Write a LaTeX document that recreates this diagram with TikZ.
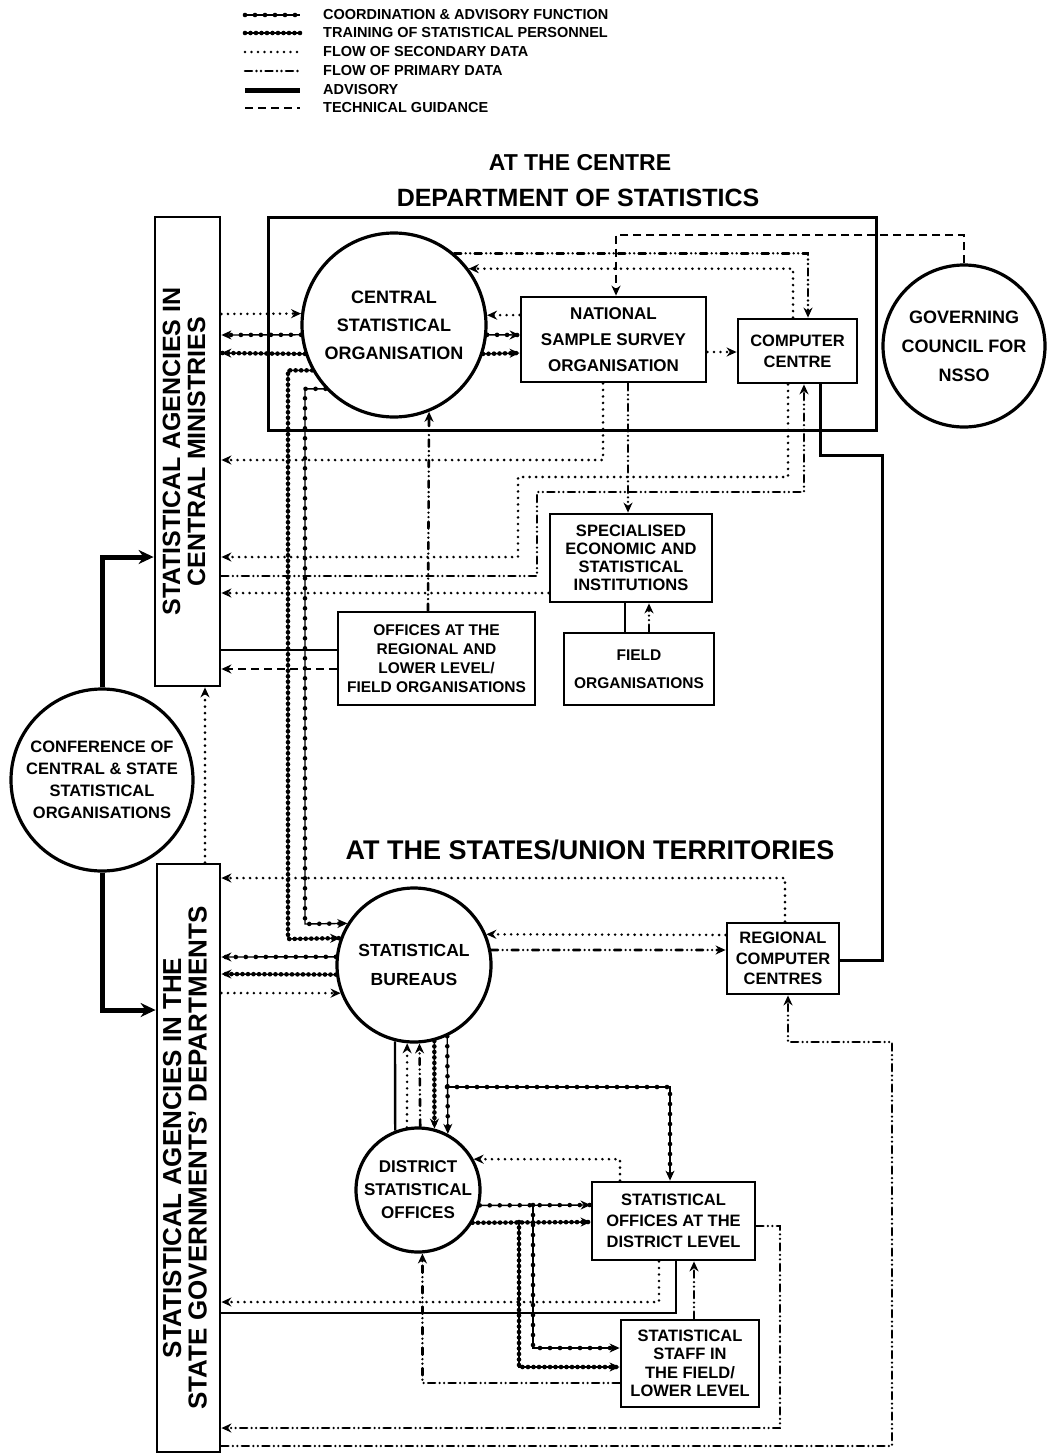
\documentclass[tikz,border=0pt]{standalone}
\usepackage{fontspec}
\setmainfont{Liberation Sans}
\usepackage{graphicx}
\usetikzlibrary{arrows.meta}
\newcommand\myfs[2]{\bfseries\fontsize{#1}{#2}\selectfont}
\tikzset{
 box/.style={draw, line width=2.8pt, inner sep=0pt, align=center},
 circ/.style={draw, circle, line width=3.2pt, inner sep=0pt, align=center},
 arrowhd/.style={-{Stealth[length=10pt,width=9pt]}},
 bigarrowhd/.style={-{Stealth[length=15pt,width=14pt]}},
 coordl/.style={line width=1.4pt, postaction={draw, arrows=-, line width=4.6pt, line cap=round, dash pattern=on 0pt off 10pt}},
 trainl/.style={line width=1.4pt, postaction={draw, arrows=-, line width=4.6pt, line cap=round, dash pattern=on 0pt off 5.5pt}},
 secl/.style={line width=2.8pt, line cap=round, dash pattern=on 0pt off 6.5pt},
 priml/.style={line width=2.6pt, line cap=round, dash pattern=on 7pt off 4.5pt on 0pt off 4.5pt on 0pt off 4.5pt},
 techl/.style={line width=2.8pt, dash pattern=on 8pt off 5pt},
 advl/.style={line width=5pt},
 plainl/.style={line width=2.4pt},
 legend/.style={anchor=west, inner sep=0pt, font=\myfs{14.5}{16}},
 title/.style={inner sep=0pt, font=\myfs{#1}{#1}},
}
\begin{document}
\begin{tikzpicture}[x=1pt,y=-1pt]
\fill[white] (0,0) rectangle (1048,1456);
\useasboundingbox (0,0) rectangle (1048,1456);

% legend
\node[legend] (lg1) at (323,15) {COORDINATION \& ADVISORY FUNCTION};
\node[legend] (lg2) at (323,33) {TRAINING OF STATISTICAL PERSONNEL};
\node[legend] (lg3) at (323,52) {FLOW OF SECONDARY DATA};
\node[legend] (lg4) at (323,71) {FLOW OF PRIMARY DATA};
\node[legend] (lg5) at (323,90) {ADVISORY};
\node[legend] (lg6) at (323,108) {TECHNICAL GUIDANCE};
\draw[coordl] (245,15) -- (300,15);
\draw[trainl] (245,33) -- (300,33);
\draw[secl] (245,52) -- (300,52);
\draw[priml] (245,71) -- (300,71);
\draw[advl] (245,90) -- (300,90);
\draw[techl] (245,108) -- (300,108);

% titles
\node[title=23] (t1) at (580,163) {AT THE CENTRE};
\node[title=25] (t2) at (578,198) {DEPARTMENT OF STATISTICS};
\node[title=27] (t3) at (590,850) {AT THE STATES/UNION TERRITORIES};

% nodes
\node[box, line width=3pt, minimum width=608pt, minimum height=213pt] (dept) at (572,323.5) {};
\node[circ, minimum size=184pt, font=\myfs{18}{28}] (cso) at (394,325) {CENTRAL\\STATISTICAL\\ORGANISATION};
\node[box, minimum width=185pt, minimum height=85pt, font=\myfs{17}{26}] (nsso) at (613.5,339.5) {NATIONAL\\SAMPLE SURVEY\\ORGANISATION};
\node[box, minimum width=119pt, minimum height=64pt, font=\myfs{16.5}{21}] (cc) at (797.5,351) {COMPUTER\\CENTRE};
\node[circ, minimum size=162pt, font=\myfs{18}{29}] (gc) at (964,346) {GOVERNING\\COUNCIL FOR\\NSSO};
\node[box, minimum width=65pt, minimum height=469pt] (agc) at (187.5,451.5)
 {\rotatebox{90}{\myfs{25}{25}\begin{tabular}{@{}c@{}}STATISTICAL AGENCIES IN\\CENTRAL MINISTRIES\end{tabular}}};
\node[box, minimum width=63pt, minimum height=588pt] (ags) at (188.5,1158)
 {\rotatebox{90}{\myfs{26}{24.5}\begin{tabular}{@{}c@{}}STATISTICAL AGENCIES IN THE\\STATE GOVERNMENTS' DEPARTMENTS\end{tabular}}};
\node[circ, minimum size=182pt, font=\myfs{16.5}{22}] (conf) at (102,780) {CONFERENCE OF\\CENTRAL \& STATE\\STATISTICAL\\ORGANISATIONS};
\node[box, minimum width=197pt, minimum height=93pt, font=\myfs{15.5}{19}] (off) at (436.5,658.5) {OFFICES AT THE\\REGIONAL AND\\LOWER LEVEL/\\FIELD ORGANISATIONS};
\node[box, minimum width=162pt, minimum height=88pt, font=\myfs{16.5}{18}] (spec) at (631,558) {SPECIALISED\\ECONOMIC AND\\STATISTICAL\\INSTITUTIONS};
\node[box, minimum width=150pt, minimum height=72pt, font=\myfs{15.5}{28}] (field) at (639,669) {FIELD\\ORGANISATIONS};
\node[circ, minimum size=154pt, font=\myfs{17.5}{29}] (sb) at (414,965) {STATISTICAL\\BUREAUS};
\node[box, minimum width=112pt, minimum height=71pt, font=\myfs{16.5}{20.5}] (rcc) at (783,958.5) {REGIONAL\\COMPUTER\\CENTRES};
\node[circ, minimum size=124pt, font=\myfs{17}{23}] (dso) at (418,1190) {DISTRICT\\STATISTICAL\\OFFICES};
\node[box, minimum width=163pt, minimum height=78pt, font=\myfs{16.5}{21}] (sodl) at (673.5,1221) {STATISTICAL\\OFFICES AT THE\\DISTRICT LEVEL};
\node[box, minimum width=138pt, minimum height=87pt, font=\myfs{16.5}{18.5}] (ssfl) at (690,1363.5) {STATISTICAL\\STAFF IN\\THE FIELD/\\LOWER LEVEL};

% ---- connectors at the centre
\draw[techl,arrowhd] (gc.north) |- (616,235) -- (nsso.north -| 616,0);
\draw[priml,arrowhd] (cso.50) -| (cc.north -| 808,0);
\draw[secl,arrowhd] (cc.north -| 793,0) |- (cso.37);
\draw[secl,arrowhd] (nsso.west |- 0,315) -- (cso.6);
\draw[coordl,arrowhd] (cso.-6) -- (nsso.west |- 0,335);
\draw[trainl,arrowhd] (cso.-18) -- (nsso.west |- 0,353);
\draw[secl,arrowhd] (nsso.east |- 0,352) -- (cc.west |- 0,352);
\draw[secl,arrowhd] (agc.east |- 0,314) -- (cso.173);
\draw[coordl,arrowhd] (cso.186) -- (agc.east |- 0,335);
\draw[trainl,arrowhd] (cso.198) -- (agc.east |- 0,353);
\draw[trainl,arrowhd] (cso.209) -| (288,939) -- (sb.160);
\draw[coordl,arrowhd] (cso.223) -| (305,924) -- (sb.148);
\draw[secl,arrowhd] (nsso.south -| 603,0) |- (agc.east |- 0,460);
\draw[priml,arrowhd] (nsso.south -| 628,0) -- (spec.north -| 628,0);
\draw[secl,arrowhd] (cc.south -| 788,0) |- (518,477) |- (agc.east |- 0,557);
\draw[priml,arrowhd] (agc.east |- 0,576) -| (537,492) -| (cc.south -| 804,0);
\draw[secl,arrowhd] (spec.west |- 0,593) -- (agc.east |- 0,593);
\draw[priml,arrowhd] (off.north -| 428,0) -- (cso.-68);
\draw[plainl] (agc.east |- 0,650) -- (off.west |- 0,650);
\draw[techl,arrowhd] (off.west |- 0,669) -- (agc.east |- 0,669);
\draw[plainl] (field.north -| 625,0) -- (spec.south -| 625,0);
\draw[priml,arrowhd] (field.north -| 649,0) -- (spec.south -| 649,0);
\draw[advl,bigarrowhd] (conf.north) |- (agc.west |- 0,557);
\draw[advl,bigarrowhd] (conf.south) |- (ags.west |- 0,1010);
\draw[secl,arrowhd] (ags.north -| 205,0) -- (agc.south -| 205,0);
\draw[plainl,line width=3pt] (cc.south -| 820,0) |- (882,455) |- (rcc.east |- 0,960);

% ---- connectors at the states
\draw[secl,arrowhd] (rcc.north -| 785,0) |- (ags.east |- 0,878);
\draw[secl,arrowhd] (rcc.west |- 0,935) -- (sb.23);
\draw[priml,arrowhd] (sb.11) -- (rcc.west |- 0,950);
\draw[coordl,arrowhd] (sb.174) -- (ags.east |- 0,957);
\draw[trainl,arrowhd] (sb.187) -- (ags.east |- 0,974);
\draw[secl,arrowhd] (ags.east |- 0,993) -- (sb.201);
\draw[plainl] (sb.-104) -- (dso.111);
\draw[secl,arrowhd] (dso.100) -- (sb.-95);
\draw[priml,arrowhd] (dso.88) -- (sb.-86);
\draw[trainl,arrowhd] (sb.-75) -- (dso.75);
\draw[coordl,arrowhd] (sb.-65) -- (dso.62);
\coordinate (br1) at (447,1087);
\draw[coordl,arrowhd] (br1) -| (sodl.north -| 670,0);
\draw[secl,arrowhd] (sodl.north -| 620,0) |- (dso.29);
\draw[coordl,arrowhd] (dso.-14) -- (sodl.west |- 0,1205);
\draw[trainl,arrowhd] (dso.-31) -- (sodl.west |- 0,1222);
\coordinate (br2) at (533,1205);
\coordinate (br3) at (519,1222);
\draw[coordl,arrowhd] (br2) |- (ssfl.west |- 0,1348);
\draw[trainl,arrowhd] (br3) |- (ssfl.west |- 0,1367);
\draw[priml,arrowhd] (ssfl.west |- 0,1383) -| (dso.-86);
\draw[secl,arrowhd] (sodl.south -| 659,0) |- (ags.east |- 0,1302);
\draw[plainl] (ags.east |- 0,1313) -| (sodl.south -| 676,0);
\draw[priml,arrowhd] (ssfl.north -| 694,0) -- (sodl.south -| 694,0);
\draw[priml,arrowhd] (sodl.east |- 0,1226) -| (780,1428) -- (ags.east |- 0,1428);
\draw[priml,arrowhd] (ags.east |- 0,1446) -| (892,1042) -| (rcc.south -| 788,0);
\end{tikzpicture}
\end{document}
